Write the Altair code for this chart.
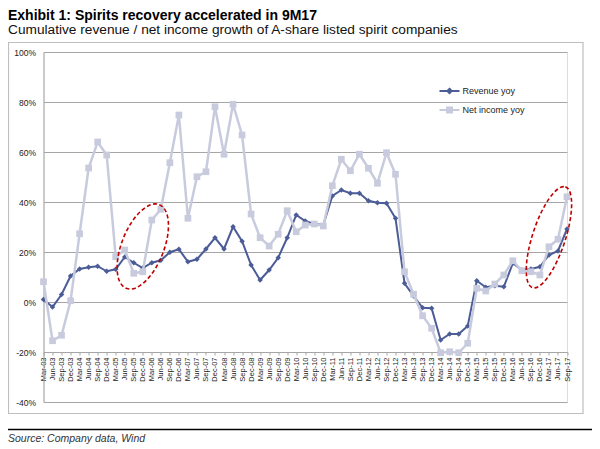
import altair as alt
import pandas as pd

FONT = "Liberation Sans"
REV_COLOR = "#4b5c96"
NI_COLOR = "#c8cbdd"

months = ["Mar", "Jun", "Sep", "Dec"]
years = ["03", "04", "05", "06", "07", "08", "09", "10", "11", "12", "13", "14", "15", "16", "17"]
quarters = [f"{m}-{y}" for y in years for m in months][:59]

revenue = [
    1.0, -2.0, 3.0, 10.4,
    13.2, 13.9, 14.3, 12.3,
    13.1, 18.0, 15.7, 13.6,
    15.7, 16.7, 19.9, 21.1,
    16.1, 17.1, 21.2, 25.7,
    21.2, 30.1, 24.3, 14.8,
    8.8, 12.8, 17.7, 25.7,
    34.8, 32.4, 31.2, 30.8,
    42.4, 44.8, 43.5, 43.5,
    40.5, 39.7, 39.5, 33.5,
    7.5, 2.4, -2.3, -2.5,
    -15.2, -12.8, -12.8, -9.6,
    8.5, 5.9, 6.5, 6.1,
    15.5, 12.8, 13.2, 14.1,
    18.8, 20.4, 29.2,
]

net_income = [
    8.1, -15.5, -13.3, 0.5,
    27.3, 53.6, 64.0, 58.8,
    18.1, 20.8, 11.5, 12.1,
    32.8, 37.1, 55.7, 74.8,
    33.5, 50.1, 52.1, 78.1,
    59.1, 79.1, 66.8, 35.2,
    25.7, 22.4, 27.1, 36.5,
    28.1, 30.8, 31.2, 30.4,
    46.5, 57.1, 52.5, 59.1,
    53.5, 47.5, 59.7, 51.1,
    12.1, 3.1, -5.5, -10.5,
    -20.3, -19.9, -20.3, -16.5,
    5.5, 4.4, 7.2, 10.8,
    16.5, 12.5, 12.1, 10.8,
    22.1, 25.1, 42.1,
]

series_names = ["Revenue yoy", "Net income yoy"]
y_ticks = [-40, -20, 0, 20, 40, 60, 80, 100]

# highlighted regions (red dashed ellipses): anchor quarter and value
ellipse_quarters = ["Dec-05", "Mar-17"]
ellipse_values = [22.2, 25.9]

df = pd.DataFrame({
    "quarter": quarters * 2,
    "series": [series_names[0]] * len(revenue) + [series_names[1]] * len(net_income),
    "value": revenue + net_income,
})

one = pd.DataFrame({"d": [0]})


def ellipse_path(r):
    k = 0.5523
    return (f"M-1,0C-1,{-k*r:.3f} {-k},{-r} 0,{-r}C{k},{-r} 1,{-k*r:.3f} 1,0"
            f"C1,{k*r:.3f} {k},{r} 0,{r}C{-k},{r} -1,{k*r:.3f} -1,0Z")


REV_SYM = "M-1,0L1,0M0,-0.22L0.22,0L0,0.22L-0.22,0Z"
NI_SYM = "M-1,0L1,0M-0.25,-0.25L0.25,-0.25L0.25,0.25L-0.25,0.25Z"
is_rev = "datum.value == 'Revenue yoy'"

x_enc = alt.X(
    "quarter:N",
    sort=quarters,
    scale=alt.Scale(type="point", padding=0),
    axis=alt.Axis(
        title=None, orient="bottom", offset=-50, labelAngle=270,
        labelFontSize=7.5, labelFont=FONT, labelColor="#1a1a1a",
        labelPadding=2, ticks=True, tickSize=3, tickColor="#a6a6a6",
        domainColor="#a6a6a6", domainWidth=1, grid=False,
    ),
)
y_enc = alt.Y(
    "value:Q",
    scale=alt.Scale(domain=[-40, 100], nice=False, zero=False),
    axis=alt.Axis(
        title=None, values=y_ticks, labelExpr="datum.value + '%'",
        labelFontSize=8.5, labelFont=FONT, labelColor="#1a1a1a",
        labelPadding=8, ticks=False, grid=True, gridColor="#a6a6a6",
        gridWidth=1, domainColor="#a6a6a6", domainWidth=1,
    ),
)
color_enc = alt.Color(
    "series:N",
    scale=alt.Scale(domain=series_names, range=[REV_COLOR, NI_COLOR]),
    legend=alt.Legend(
        title=None, orient="none", legendX=395, legendY=28,
        symbolSize=400, symbolStrokeWidth=2, labelFontSize=9,
        labelFont=FONT, labelColor="#222222", labelOffset=2,
        rowPadding=1, padding=0, symbolOpacity=1,
        symbolType={"expr": f"{is_rev} ? '{REV_SYM}' : '{NI_SYM}'"},
        symbolFillColor={"expr": f"{is_rev} ? '{REV_COLOR}' : '{NI_COLOR}'"},
        symbolStrokeColor={"expr": f"{is_rev} ? '{REV_COLOR}' : '{NI_COLOR}'"},
    ),
)

base = alt.Chart(df)
rev = base.transform_filter(alt.datum.series == series_names[0])
ni = base.transform_filter(alt.datum.series == series_names[1])

rev_line = rev.mark_line(strokeWidth=2).encode(x=x_enc, y=y_enc, color=color_enc)
rev_pts = rev.mark_point(shape="diamond", filled=True, size=30, opacity=1).encode(
    x=x_enc, y=y_enc, color=color_enc)
ni_line = ni.mark_line(strokeWidth=2.5).encode(x=x_enc, y=y_enc, color=color_enc)
ni_pts = ni.mark_point(shape="square", filled=True, size=45, opacity=1).encode(
    x=x_enc, y=y_enc, color=color_enc)

ell_df1 = pd.DataFrame({"quarter": [ellipse_quarters[0]], "value": [ellipse_values[0]]})
ell_df2 = pd.DataFrame({"quarter": [ellipse_quarters[1]], "value": [ellipse_values[1]]})
ell1 = alt.Chart(ell_df1).mark_point(
    shape=ellipse_path(0.47), size=8100, angle=111.5, filled=False, opacity=1,
    color="#c00000", strokeWidth=1.6, strokeDash=[4, 2.5], dx=6.3,
).encode(x=x_enc, y=y_enc)
ell2 = alt.Chart(ell_df2).mark_point(
    shape=ellipse_path(0.31), size=11236, angle=108.1, filled=False, opacity=1,
    color="#c00000", strokeWidth=1.6, strokeDash=[4, 2.5], dx=7.5,
).encode(x=x_enc, y=y_enc)

frame = alt.Chart(one).mark_rect(
    fill="transparent", stroke="#bfbfbf", strokeWidth=1.2
).encode(x=alt.value(-35), x2=alt.value(539.5), y=alt.value(-9.5), y2=alt.value(361.5))

source_rule = alt.Chart(one).mark_rule(color="black", strokeWidth=1.5).encode(
    x=alt.value(-35.5), x2=alt.value(556), y=alt.value(377.5))

source_text = alt.Chart(one).mark_text(
    text="Source: Company data, Wind", align="left", baseline="alphabetic",
    fontStyle="italic", fontSize=10.5, font=FONT, color="#333333",
).encode(x=alt.value(-35.5), y=alt.value(390))

chart = alt.layer(
    frame, source_rule, source_text, rev_line, rev_pts, ni_line, ni_pts, ell1, ell2
).properties(
    width=523.5,
    height=350,
    autosize=alt.AutoSizeParams(type="none"),
    padding={"left": 35.5, "top": 44, "right": 25, "bottom": 44},
    title=alt.TitleParams(
        text="Exhibit 1: Spirits recovery accelerated in 9M17",
        subtitle="Cumulative revenue / net income growth of A-share listed spirit companies",
        anchor="start", frame="group", dx=-35.5, offset=5,
        font=FONT, fontSize=14, fontWeight="bold", color="black",
        subtitleFont=FONT, subtitleFontSize=13.7, subtitleColor="#111111",
        subtitlePadding=0,
    ),
).configure_view(stroke=None).configure(background="white")

chart.save("out.html", embed_options={"renderer": "svg", "actions": False})
